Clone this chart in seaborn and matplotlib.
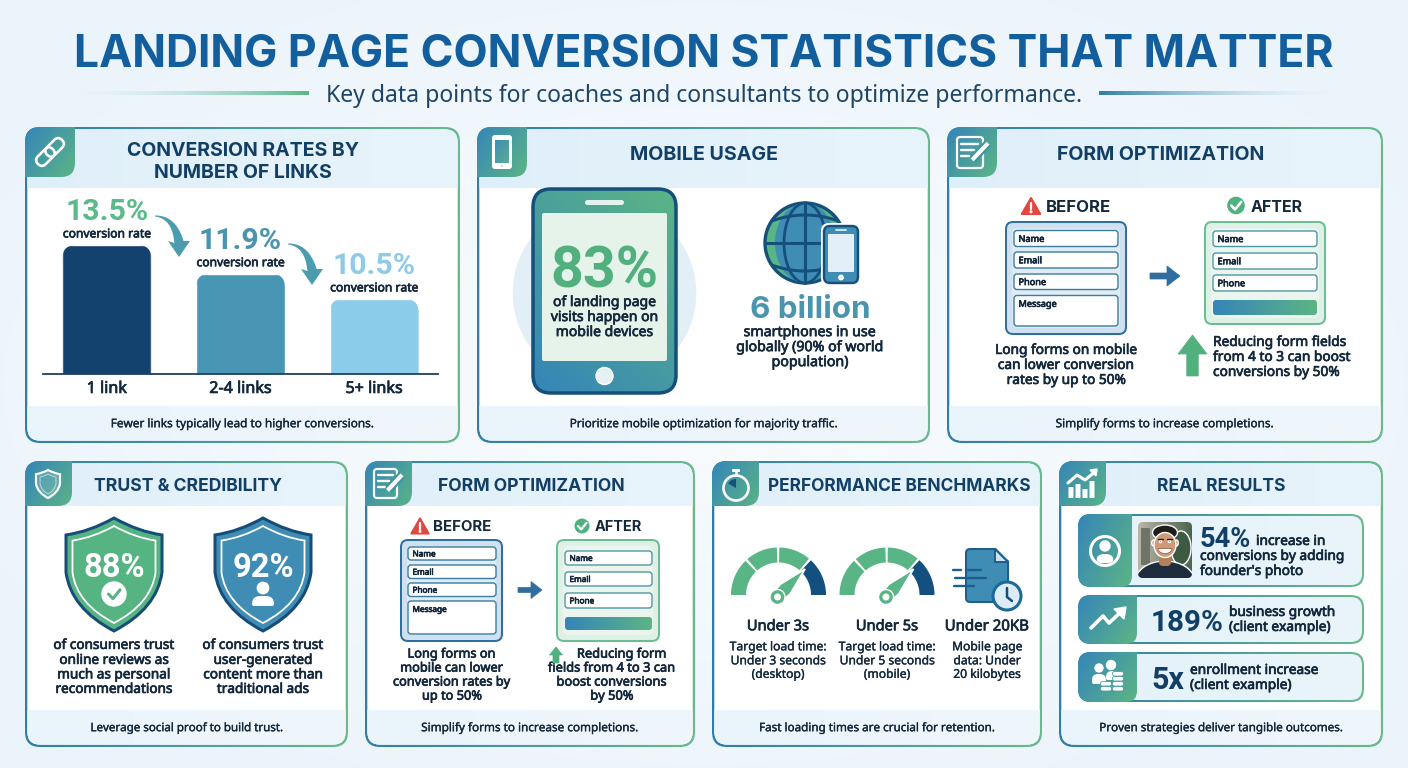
import numpy as np
import matplotlib
matplotlib.use("Agg")
import matplotlib.pyplot as plt
import matplotlib.patheffects as pe
import seaborn as sns
from matplotlib.path import Path
from matplotlib.patches import PathPatch, Circle, Ellipse, Wedge, FancyBboxPatch, Polygon
from matplotlib.colors import to_rgba
from matplotlib.transforms import Affine2D, IdentityTransform

# ---------- data ----------
link_categories = ["1 link", "2-4 links", "5+ links"]
link_rates = [13.5, 11.9, 10.5]
mobile_share = "83%"
smartphones = "6 billion"
trust_values = ["88%", "92%"]
gauge_labels = ["Under 3s", "Under 5s", "Under 20KB"]
result_values = ["54%", "189%", "5x"]
before_fields = ["Name", "Email", "Phone", "Message"]
after_fields = ["Name", "Email", "Phone"]

NAVY = "#123f66"; DARK = "#14283c"; BLUE = "#3a88b4"; GREEN = "#59b585"; TEAL = "#4a94ae"
LINE = "#15507c"
bar_colors = ["#14426f", "#4896b4", "#8accea"]
label_colors = ["#5cba8a", "#4a94ae", "#8fcbe8"]

sns.set_theme(style="white")
plt.rcParams['font.family'] = ['Noto Sans', 'DejaVu Sans']
fig = plt.figure(figsize=(14.08, 7.68), dpi=100)
ax = fig.add_axes([0, 0, 1, 1])
ax.set_xlim(0, 1408); ax.set_ylim(768, 0); ax.axis("off")
rend = fig.canvas.get_renderer()
HEAD = ["Inter", "DejaVu Sans"]
NUM = ["Roboto", "DejaVu Sans"]
BODY = ['Noto Sans', 'DejaVu Sans']
STROKE = {500: 0.25, 600: 0.5}


def rr(x0, y0, x1, y1, r=8):
    if np.isscalar(r):
        r = (r, r, r, r)
    tl, tr, br, bl = r
    v = [(x0 + tl, y0), (x1 - tr, y0), (x1, y0), (x1, y0 + tr), (x1, y1 - br), (x1, y1), (x1 - br, y1),
         (x0 + bl, y1), (x0, y1), (x0, y1 - bl), (x0, y0 + tl), (x0, y0), (x0 + tl, y0), (x0 + tl, y0)]
    c = [Path.MOVETO, Path.LINETO, Path.CURVE3, Path.CURVE3, Path.LINETO, Path.CURVE3, Path.CURVE3,
         Path.LINETO, Path.CURVE3, Path.CURVE3, Path.LINETO, Path.CURVE3, Path.CURVE3, Path.CLOSEPOLY]
    return Path(v, c)


def P(path, fc="none", ec="none", lw=0, clip=None, tr=None, **kw):
    p = PathPatch(path, facecolor=fc, edgecolor=ec, linewidth=lw * 0.72, **kw)
    if tr is not None:
        p.set_transform(tr + ax.transData)
    ax.add_patch(p)
    if clip is not None:
        p.set_clip_path(clip, ax.transData)
    return p


def box(x0, y0, x1, y1, r=8, **kw):
    return P(rr(x0, y0, x1, y1, r), **kw)


def grad(x0, y0, x1, y1, c0, c1, angle=0, clip=None):
    n = 64
    u, v = np.meshgrid(np.linspace(0, 1, n), np.linspace(0, 1, n))
    a = np.deg2rad(angle)
    t = u * np.cos(a) + v * np.sin(a)
    t = (t - t.min()) / (t.max() - t.min())
    A, B = np.array(to_rgba(c0)), np.array(to_rgba(c1))
    arr = A[None, None, :] * (1 - t[..., None]) + B[None, None, :] * t[..., None]
    im = ax.imshow(arr, extent=(x0, x1, y1, y0), aspect="auto", interpolation="bilinear")
    ax.set_xlim(0, 1408); ax.set_ylim(768, 0)
    if clip is not None:
        im.set_clip_path(clip, ax.transData)
    return im


def fam(weight, family):
    if family:
        return family
    return HEAD if weight >= 700 else BODY


def fit_size(s, width, weight, family=None):
    t = ax.text(0, 0, s, fontsize=10, fontweight=weight, family=fam(weight, family))
    w = t.get_window_extent(rend).width
    t.remove()
    return 10 * width / w


def T(x, y, s, size, color=DARK, weight=500, ha="center", family=None):
    """y is the visual centre of the line; size in pt"""
    t = ax.text(x, y + 0.36 * size / 0.72, s, fontsize=size, color=color, fontweight=weight, ha=ha,
                va="baseline", family=fam(weight, family))
    if weight in STROKE:
        t.set_path_effects([pe.withStroke(linewidth=STROKE[weight], foreground=color)])
    return t


def block(x, ys, lines, fit_i, width, color=DARK, weight=500, ha="center"):
    size = fit_size(lines[fit_i], width, weight)
    for y, s in zip(ys, lines):
        T(x, y, s, size, color, weight, ha)


def F(x, y, s, width, color=DARK, weight=500, ha="center", family=None):
    return T(x, y, s, fit_size(s, width, weight, family), color, weight, ha, family)


def card(x0, y0, x1, y1, head_b, foot_t, tab_w, title_y, title, title_x, title_w, foot, foot_x, foot_w):
    outer = rr(x0, y0, x1, y1, 15)
    grad(x0, y0, x1, y1, "#2f7ea8", "#68ba8d", 0, clip=outer)
    inner = rr(x0 + 2.3, y0 + 2.3, x1 - 2.3, y1 - 2.3, 13)
    P(inner, fc="white")
    grad(x0, y0, x1, head_b, "#dfeff9", "#e8f4fb", 0, clip=inner)
    grad(x0, foot_t, x1, y1, "#eaf4fb", "#f0f7fc", 0, clip=inner)
    tab = rr(x0, y0, x0 + tab_w, head_b if tab_w < 49 else y0 + 50, (15, 0, 14, 0))
    grad(x0, y0, x0 + tab_w, y0 + 50, "#3585b8", "#5cb585", 35, clip=tab)
    if title:
        F(title_x, title_y, title, title_w, NAVY, 700)
    F(foot_x, (foot_t + y1) / 2 - 1.5, foot, foot_w, DARK, 500)


def arrow_right(x0, x1, y, head, hh, th, color):
    pts = [(x0, y - th / 2), (x1 - head, y - th / 2), (x1 - head, y - hh / 2), (x1, y), (x1 - head, y + hh / 2),
           (x1 - head, y + th / 2), (x0, y + th / 2)]
    ax.add_patch(Polygon(pts, closed=True, fc=color, ec=color, lw=0.5, joinstyle="round"))


def arrow_up(cx, top, bot, hw, sw, head, color):
    pts = [(cx, top), (cx + hw / 2, top + head), (cx + sw / 2, top + head), (cx + sw / 2, bot), (cx - sw / 2, bot),
           (cx - sw / 2, top + head), (cx - hw / 2, top + head)]
    ax.add_patch(Polygon(pts, closed=True, fc=color, ec=color, lw=0.5))


def curved_arrow(x0, y0, color):
    """tapered curve starting to the right of a value label, ending in a downward head"""
    t = np.linspace(0, 1, 30)[..., None]
    a, c, b = np.array([x0, y0]), np.array([x0 + 19, y0 + 1]), np.array([x0 + 24, y0 + 26])
    pts = (1 - t) ** 2 * a + 2 * t * (1 - t) * c + t ** 2 * b
    d = np.gradient(pts, axis=0)
    n = np.c_[-d[:, 1], d[:, 0]] / np.hypot(d[:, 0], d[:, 1])[..., None]
    w = (0.5 + 4.2 * t ** 1.2)
    left = pts + n * w
    right = pts - n * w
    head = [(x0 + 35, y0 + 25), (x0 + 24, y0 + 41), (x0 + 13, y0 + 25)]
    ax.add_patch(Polygon(np.r_[right, head, left[::-1]], closed=True, fc=color, ec="none"))


def warn(cx, cy, h):
    w = h * 1.15
    ax.add_patch(Polygon([(cx, cy - h / 2), (cx + w / 2, cy + h / 2), (cx - w / 2, cy + h / 2)], closed=True,
                         fc="#e2483f", ec="#e2483f", lw=1.5, joinstyle="round"))
    ax.plot([cx, cx], [cy - h * .18, cy + h * .18], color="white", lw=1.6, solid_capstyle="round")
    ax.add_patch(Circle((cx, cy + h * .36), h * .055, fc="white"))


def check(cx, cy, r, color="white", lw=2.2):
    ax.plot([cx - r * .5, cx - r * .1, cx + r * .55], [cy, cy + r * .42, cy - r * .38], color=color, lw=lw,
            solid_capstyle="round", solid_joinstyle="round")


def okcircle(cx, cy, r):
    ax.add_patch(Circle((cx, cy), r, fc="#4fb17f"))
    check(cx, cy, r, "white", r * .2)


def form(x0, y0, x1, y1, fc, ec, fields, fx0, fx1, lab, border):
    box(x0, y0, x1, y1, 7, fc=fc, ec=ec, lw=2)
    box(x0 + 6, y0 + 6, x1 - 6, y1 - 6, 6, fc=to_rgba("white", .35))
    for name, (a, b) in zip(fields, lab):
        box(fx0, a, fx1, b, 3, fc="white", ec=border, lw=1.4)
        cy = (a + 8) if b - a > 20 else (a + b) / 2
        T(fx0 + 4.5, cy, name, 6.6 if x1 - x0 > 110 else 5.9, DARK, 600, "left")


def form_icon(x0, y0, x1, y1):
    box(x0, y0, x1 - 3, y1, 3, ec="white", lw=2.2)
    h = y1 - y0; w = x1 - x0
    for f, e in [(.22, .72), (.42, .58), (.62, .42)]:
        ax.plot([x0 + w * .14, x0 + w * e], [y0 + h * f, y0 + h * f], color="white", lw=1.7)
    ax.plot([x0 + w * .55, x1 + 2], [y0 + h * .72, y0 + h * .2], color="#3f94a0", lw=6, solid_capstyle="butt")
    ax.plot([x0 + w * .52, x1 + 2], [y0 + h * .74, y0 + h * .2], color="white", lw=3, solid_capstyle="butt")


def shield_path(cx, y0, y1, w):
    h = y1 - y0; s = w / 2
    v = [(cx, y0), (cx + s * .5, y0 + h * .12), (cx + s, y0 + h * .15), (cx + s, y0 + h * .48),
         (cx + s * .9, y0 + h * .8), (cx, y1), (cx - s * .9, y0 + h * .8), (cx - s, y0 + h * .48),
         (cx - s, y0 + h * .15), (cx - s * .5, y0 + h * .12), (cx, y0), (cx, y0)]
    c = [Path.MOVETO, Path.CURVE3, Path.CURVE3, Path.LINETO, Path.CURVE3, Path.CURVE3, Path.CURVE3, Path.CURVE3,
         Path.LINETO, Path.CURVE3, Path.CURVE3, Path.CLOSEPOLY]
    return Path(v, c)


def annulus(cx, cy, r0, r1, a0, a1, color):
    t = np.deg2rad(np.linspace(a0, a1, 40))
    o = np.c_[cx + r1 * np.cos(t), cy - r1 * np.sin(t)]
    i = np.c_[cx + r0 * np.cos(t[::-1]), cy - r0 * np.sin(t[::-1])]
    ax.add_patch(Polygon(np.r_[o, i], closed=True, fc=color, ec="none"))


def gauge(cx, cy):
    for a0, a1, c in [(180, 134, GREEN), (131, 92, GREEN), (89, 50, GREEN), (47, 0, "#14507f")]:
        annulus(cx, cy, 32.5, 47.5, a0, a1, c)
    hub = np.array([cx - 1, cy + 2.0])
    tip = np.array([cx + 26.5, cy - 26])
    d = tip - hub
    n = np.array([-d[1], d[0]]) / np.hypot(*d)
    mid = hub + d * .28
    ax.add_patch(Polygon([tip, mid + n * 7, hub + n * 6, hub - n * 6, mid - n * 7], closed=True, fc=GREEN,
                         ec="white", lw=1.3))
    ax.add_patch(Circle(hub, 7.5, fc=GREEN))
    ax.add_patch(Circle(hub, 2.8, fc="white"))


# ---------- background ----------
yy, xx = np.mgrid[0:1:96j, 0:1:176j]
d = np.clip(np.hypot((xx - .5) * 1.1, (yy - .5) * 1.1) / .7, 0, 1)[..., None]
bg = np.array(to_rgba("#f9fcfe"))[None, None, :] * (1 - d) + np.array(to_rgba("#ebf4fb"))[None, None, :] * d
ax.imshow(bg, extent=(0, 1408, 768, 0), aspect="auto", interpolation="bilinear")
ax.set_xlim(0, 1408); ax.set_ylim(768, 0)

F(704, 51, "LANDING PAGE CONVERSION STATISTICS THAT MATTER", 1258, "#135f9e", 700)
F(704.5, 94, "Key data points for coaches and consultants to optimize performance.", 755, "#1c4568", 400)
grad(70, 91.5, 309, 95.5, to_rgba("#cfe4f2", 0), "#5cb98a", 0)
grad(1099, 91.5, 1338, 95.5, "#2f7fa8", to_rgba("#cfe4f2", 0), 0)


# ---------- cards ----------
def tcard(x0, x1, title, tx, tw, foot, fx, fw):
    card(x0, 127, x1, 443, 188, 406, 50, 153, title, tx, tw, foot, fx, fw)


def bcard(x0, x1, title, tx, tw, foot, fx, fw):
    card(x0, 461, x1, 747, 506, 710, 47, 485, title, tx, tw, foot, fx, fw)


tcard(25, 460, None, 0, 0, "Fewer links typically lead to higher conversions.", 243, 263)
hs = fit_size("CONVERSION RATES BY", 232, 700)
T(243, 149, "CONVERSION RATES BY", hs, NAVY, 700)
T(243, 170.5, "NUMBER OF LINKS", hs, NAVY, 700)
for dx in (-6.5, 6.5):
    rot = Affine2D().rotate_deg_around(50, 152, -45)
    P(rr(50 + dx - 10.5, 152 - 5.5, 50 + dx + 10.5, 152 + 5.5, 5.5), ec="white", lw=2.6, tr=rot)

curved_arrow(155, 216, "#4b9cae")
curved_arrow(288, 244, "#4b9cae")

# bar chart (axis truncated like the reference)
axb = fig.add_axes([40 / 1408, 1 - 374 / 768, 401 / 1408, 184 / 768], zorder=5)
axb.patch.set_alpha(0)
sns.barplot(x=link_categories, y=link_rates, hue=link_categories, palette=bar_colors, legend=False,
            width=0.667, saturation=1, ax=axb)
axb.set_xlim(-0.5, 2.5)
axb.set_ylim(6.33, 6.33 + 184 / 18)
axb.set_yticks([]); axb.set_xlabel(""); axb.set_ylabel("")
for sp in ("top", "left", "right"):
    axb.spines[sp].set_visible(False)
axb.spines["bottom"].set_color("#1f3f5f"); axb.spines["bottom"].set_linewidth(1.3)
axb.spines["bottom"].set_bounds(-0.4775, 2.4775)
axb.tick_params(axis="x", length=0, pad=5, labelsize=11.6, labelcolor=DARK)
for lab in axb.get_xticklabels():
    lab.set_fontweight(600)
    lab.set_path_effects([pe.withStroke(linewidth=0.5, foreground=DARK)])
fig.canvas.draw()
for bar in axb.patches:
    if bar.get_height() == 0:
        continue
    (px0, py1), (px1, py0) = axb.transData.transform([(bar.get_x(), bar.get_y() + bar.get_height()),
                                                      (bar.get_x() + bar.get_width(), 6.33 - 2)])
    clip = FancyBboxPatch((px0, py0), px1 - px0, py1 - py0, boxstyle="round,pad=0,rounding_size=14",
                          transform=IdentityTransform())
    bar.set_clip_path(clip)
sv = fit_size("13.5%", 83, 700, NUM)
sc = fit_size("conversion rate", 88, 600)
for i, v in enumerate(link_rates):
    axb.annotate(f"{v}%", (i, v), xytext=(0, 33 * .72), textcoords="offset points", ha="center", va="center",
                 fontsize=sv, fontweight=700, color=label_colors[i], family=NUM)
    ann = axb.annotate("conversion rate", (i, v), xytext=(0, 11 * .72), textcoords="offset points", ha="center",
                       va="center", fontsize=sc, fontweight=600, color=DARK)
    ann.set_path_effects([pe.withStroke(linewidth=0.5, foreground=DARK)])

# --- mobile usage ---
tcard(477, 930, "MOBILE USAGE", 704, 148, "Prioritize mobile optimization for majority traffic.", 704, 268)
box(492, 135, 512, 169, 3, fc="white")
grad(495, 140, 509, 163, "#3f8db5", "#5aae93", 45)
ax.add_patch(Circle((502, 166), 1.3, fc="#3f8db5"))
ax.add_patch(Circle((604.5, 293), 92.5, fc="#e2eff7"))
ph = rr(533, 189, 676, 393, 18)
grad(533, 189, 676, 393, "#3585b8", "#5cb585", -55, clip=ph)
P(ph, ec=LINE, lw=3.5)
box(542, 213, 667, 361, 2, fc="#e6f3ea")
box(585, 200, 624, 205, 2.5, fc="#e4f2ee")
ax.add_patch(Circle((604.5, 376), 8.5, fc="#e4f2f6"))
F(604.5, 267, mobile_share, 108, "#52b07f", 700, family=NUM)
block(604.5, [301, 316, 331], ["of landing page", "visits happen on", "mobile devices"], 1, 107, DARK, 600)
# globe
globe_clip = Path.circle((805, 243), 39.5)
ax.add_patch(Circle((805, 243), 40, fc=GREEN, ec=LINE, lw=2.4))
ax.add_patch(Ellipse((805, 243), 60, 80, fc="#3f8db5", ec="none"))
ax.add_patch(Ellipse((805, 243), 42, 80, fc="none", ec=LINE, lw=2))
ax.plot([805, 805], [203, 283], color=LINE, lw=2.2)
ax.plot([765, 845], [243, 243], color=LINE, lw=2.2)
t = np.linspace(-1.2, 1.2, 40)
for line in ax.plot(805 + 36 * t, 222 + 7 * (t ** 2 - 1), color=LINE, lw=2.2) + \
        ax.plot(805 + 36 * t, 264 - 7 * (t ** 2 - 1), color=LINE, lw=2.2):
    line.set_clip_path(globe_clip, ax.transData)
box(821, 223, 861, 286, 8, fc="white")
box(824, 226, 858, 283, 6, fc="#3f8db5", ec=LINE, lw=2.4)
box(828, 234, 854, 272, 1, fc="#e2eef8")
ax.add_patch(Circle((841, 277.5), 2.2, fc="#e2eef8"))
ax.plot([836, 846], [230, 230], color="#cfe3ee", lw=1.4)
F(810, 307, smartphones, 120, TEAL, 700)
block(810, [331, 346, 361], ["smartphones in use", "globally (90% of world", "population)"], 1, 147, DARK, 600)

# --- form optimization (large) ---
tcard(947, 1383, "FORM OPTIMIZATION", 1161, 207, "Simplify forms to increase completions.", 1165, 218)
form_icon(957, 137, 986, 168)
warn(1031, 206, 16)
F(1046, 206, "BEFORE", 65, DARK, 700, "left")
okcircle(1236, 205.5, 9.5)
F(1251, 206, "AFTER", 52, DARK, 700, "left")
form(1006, 222, 1126, 334, "#cfe1f0", "#2f6f9f", before_fields, 1014, 1118,
     [(230.5, 246.5), (252, 268), (274, 289.5), (295.5, 326)], "#3a7da0")
form(1205, 222, 1325, 324, "#dff1e6", "#6bbd92", after_fields, 1213, 1317,
     [(231, 246.5), (253, 269), (275, 291)], "#4f97a5")
btn = rr(1213, 300, 1317, 315, 3)
grad(1213, 300, 1317, 315, "#3585b8", "#5cb585", 0, clip=btn)
arrow_right(1150, 1180, 276, 13, 20, 6, "#2f6e9e")
block(1066, [349, 364, 379], ["Long forms on mobile", "can lower conversion", "rates by up to 50%"], 0, 142, DARK, 600)
arrow_up(1192.5, 335, 376, 29, 11.5, 19, "#52b07f")
block(1213, [341, 356, 371], ["Reducing form fields", "from 4 to 3 can boost", "conversions by 50%"], 1, 137, DARK, 600, "left")

# --- trust ---
bcard(25, 348, "TRUST & CREDIBILITY", 188, 188, "Leverage social proof to build trust.", 187, 193)
P(shield_path(48, 470, 498, 24), ec="white", lw=2.2, fc=to_rgba("white", .12))
P(shield_path(48, 474, 494, 16), ec=to_rgba("white", .6), lw=1)
for cx, col, val in [(114, "#56b482", trust_values[0]), (263, "#3f8db5", trust_values[1])]:
    P(shield_path(cx, 518, 631, 96), fc=col, ec="#164d78", lw=3)
    P(shield_path(cx, 526, 623, 83), ec="white", lw=1.8)
    F(cx, 565, val, 62, "white", 700, family=NUM)
ax.add_patch(Circle((114, 594), 12, fc="white"))
check(114, 594, 11, "#56b482", 2.2)
ax.add_patch(Circle((263, 588), 5.7, fc="white"))
P(rr(252, 596, 274, 606, (8, 8, 2, 2)), fc="white")
block(114, [644, 659, 673.5, 688], ["of consumers trust", "online reviews as", "much as personal", "recommendations"], 0, 121, DARK, 600)
block(263, [644, 659, 673.5, 688], ["of consumers trust", "user-generated", "content more than", "traditional ads"], 0, 121, DARK, 600)

# --- form optimization (small) ---
bcard(365, 695, "FORM OPTIMIZATION", 531, 187, "Simplify forms to increase completions.", 530, 217)
form_icon(374, 469, 400, 498)
warn(420, 526, 15)
F(433, 526, "BEFORE", 58, DARK, 700, "left")
okcircle(582, 526, 8.2)
F(595, 526, "AFTER", 47, DARK, 700, "left")
form(401, 540, 502, 641, "#cfe1f0", "#2f6f9f", before_fields, 408, 496,
     [(547, 560), (565, 578.5), (583, 596.5), (601, 634)], "#3a7da0")
form(557, 540, 659, 641, "#dff1e6", "#6bbd92", after_fields, 565, 652,
     [(551, 565), (572, 586), (593, 608)], "#4f97a5")
btn2 = rr(565, 617, 652, 630, 3)
grad(565, 617, 652, 630, "#3585b8", "#5cb585", 0, clip=btn2)
arrow_right(518, 542, 590, 11, 17, 5, "#2f6e9e")
block(452, [653, 667, 681, 695], ["Long forms on", "mobile can lower", "conversion rates by", "up to 50%"], 2, 117, DARK, 600)
block(612, [653, 667, 681, 695], ["      Reducing form", "fields from 4 to 3 can", "boost conversions", "by 50%"], 1, 127, DARK, 600)
arrow_up(556, 647, 663, 13, 6, 8, "#52b07f")

# --- performance ---
bcard(712, 1042, "PERFORMANCE BENCHMARKS", 899, 262, "Fast loading times are crucial for retention.", 877, 236)
ax.add_patch(Circle((736, 488), 12.5, fc="none", ec="white", lw=1.9))
ax.add_patch(Wedge((736, 488), 9, 210, 270, fc=LINE, ec="none"))
box(732, 469, 740, 472, 1, fc="white")
ax.plot([736, 736], [472, 475], color="white", lw=1.8)
gauge(778.5, 595)
gauge(887, 595)
P(rr(966, 549, 1008, 602, (4, 0, 4, 4)), fc="#3f8db5", ec="#1c5f8f", lw=2)
ax.add_patch(Polygon([(995, 547), (1010, 547), (1010, 562)], closed=True, fc="white", ec="none"))
ax.add_patch(Polygon([(995, 549), (1008, 562), (995, 562)], closed=True, fc="#cfe3ee", ec="#1c5f8f", lw=1.4))
for xs, y in [((953, 961), 569.5), ((966, 981), 569.5), ((955, 986), 577.5), ((954, 974), 585.5)]:
    ax.plot(xs, [y, y], color="#1c5f8f", lw=1.7)
ax.add_patch(Circle((1007, 596), 14, fc="#dcecf6", ec="#1c6a96", lw=2.2))
ax.plot([1007, 1007, 1012], [588, 597, 601], color=LINE, lw=1.8)
for x, w, s in zip((778, 887, 987), (62, 62, 84), gauge_labels):
    F(x, 625, s, w, DARK, 600)
ss = fit_size("Target load time:", 97, 500)
for x, ls in [(778, ["Target load time:", "Under 3 seconds", "(desktop)"]),
              (887, ["Target load time:", "Under 5 seconds", "(mobile)"]),
              (987, ["Mobile page", "data: Under", "20 kilobytes"])]:
    for y, s in zip((646, 660, 673.5), ls):
        T(x, y, s, ss, DARK, 500)

# --- real results ---
bcard(1059, 1383, "REAL RESULTS", 1221, 128, "Proven strategies deliver tangible outcomes.", 1221, 244)
for x, top in [(1071, 487), (1078, 484), (1085, 489), (1092, 481)]:
    box(x - 2.5, top, x + 2.5, 498, 0.5, fc="white")
ax.plot([1068, 1077, 1085, 1096], [483, 475, 480, 471], color="white", lw=2.2)
ax.add_patch(Polygon([(1097, 469), (1090, 470), (1096, 476)], closed=True, fc="white"))
for (y0, y1, tx) in [(514, 587, 1132), (595, 644, 1137), (652, 702, 1137)]:
    outer = rr(1078, y0, 1364, y1, 13)
    grad(1078, y0, 1364, y1, "#2f7ea8", "#68ba8d", 0, clip=outer)
    inn = rr(1080, y0 + 2, 1362, y1 - 2, 11)
    grad(1080, y0, 1362, y1, "#e4f2fa", "#e9f5f9", 0, clip=inn)
    tab = rr(1078, y0, tx, y1, (13, 0, 11, 13))
    grad(1078, y0, tx, y1, "#3585b8", "#5cb585", 30, clip=tab)
ax.add_patch(Circle((1105, 551), 14.5, fc="none", ec="white", lw=2.2))
ax.add_patch(Circle((1105, 546), 5, fc="white"))
P(rr(1096, 554, 1114, 563, (8, 8, 6, 6)), fc="white")
# portrait
pc = rr(1138, 522, 1192, 578, 5)
grad(1138, 522, 1192, 578, "#b9b6a8", "#4f6450", 0, clip=pc)
box(1141, 528, 1150, 565, 1, fc="#6f7468", clip=pc)
ax.add_patch(Ellipse((1181, 548), 20, 34, fc="#3f5a42"))
ax.add_patch(Ellipse((1165, 582), 60, 42, fc="#1e2d3c")).set_clip_path(pc, ax.transData)
box(1159, 553, 1171, 566, 4, fc="#b3805c")
ax.add_patch(Ellipse((1165, 532.5), 25, 15, fc="#1f1d1c"))
ax.add_patch(Ellipse((1153.5, 543), 3.5, 6, fc="#bd8a64"))
ax.add_patch(Ellipse((1176.5, 543), 3.5, 6, fc="#bd8a64"))
ax.add_patch(Ellipse((1165, 545), 22, 25, fc="#cf9a74"))
t2 = np.linspace(0, np.pi, 20)
ax.add_patch(Polygon(np.c_[1165 + 7 * np.cos(t2), 548.5 + 5 * np.sin(t2)], closed=True, fc="white", ec="#8d4f3c", lw=.5))
for ex in (1160.5, 1169.5):
    ax.add_patch(Circle((ex, 541.5), 1.1, fc="#1b1b1b"))
    ax.plot([ex - 2.5, ex + 2.5], [538.5, 538.5], color="#2a211c", lw=1)
F(1200, 537, result_values[0], 51, NAVY, 700, "left", NUM)
s7 = fit_size("conversions by adding", 144, 600)
T(1256, 540, "increase in", s7, DARK, 600, "left")
T(1200, 555, "conversions by adding", s7, DARK, 600, "left")
T(1200, 570, "founder's photo", s7, DARK, 600, "left")
ax.plot([1091, 1103, 1109, 1123], [628, 616, 623, 610], color="white", lw=2.6)
ax.add_patch(Polygon([(1126, 607), (1114, 609), (1124, 619)], closed=True, fc="white"))
F(1151, 620, result_values[1], 73, NAVY, 700, "left", NUM)
T(1229, 611, "business growth", s7, DARK, 600, "left")
T(1229, 626, "(client example)", s7, DARK, 600, "left")
for c, r in [((1099, 668), 4), ((1111, 665), 4.5)]:
    ax.add_patch(Circle(c, r, fc="white"))
P(rr(1092, 674, 1106, 684, (6, 6, 2, 2)), fc="white")
P(rr(1106, 671, 1118, 680, (6, 6, 2, 2)), fc="white")
for cx, ys in [(1106, (689, 684)), (1118, (689, 684, 679, 674))]:
    for y in ys:
        box(cx - 5.5, y - 2.5, cx + 5.5, y + 2, 2, fc="white", ec="#4c9fa3", lw=.8)
F(1151, 678, result_values[2], 33, NAVY, 700, "left", NUM)
T(1190, 669, "enrollment increase", s7, DARK, 600, "left")
T(1190, 684, "(client example)", s7, DARK, 600, "left")

# paint strictly in creation order
for i, a in enumerate(ax.get_children()):
    a.set_zorder(i * 0.001)
fig.savefig("out.png", dpi=100)
